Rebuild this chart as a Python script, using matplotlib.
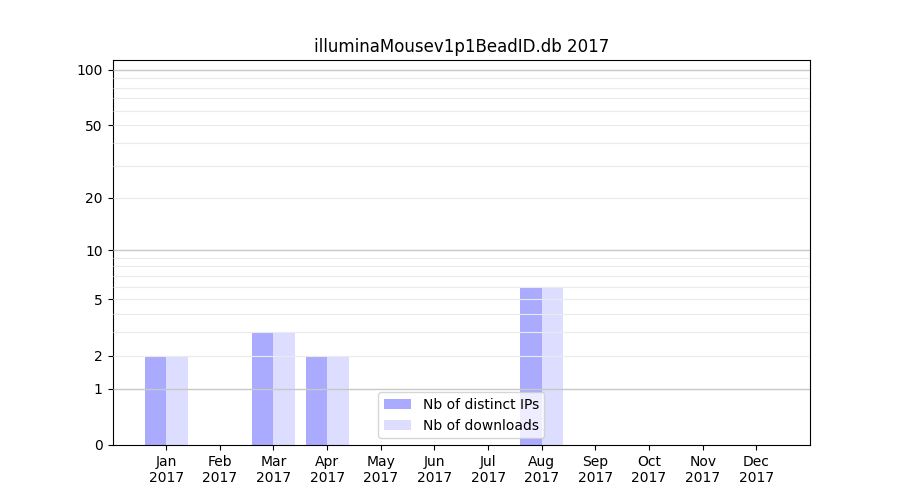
import numpy as np
import matplotlib
matplotlib.use('Agg')
import matplotlib.pyplot as plt
from matplotlib.ticker import NullLocator, FixedLocator

# Daten
months = ['Jan', 'Feb', 'Mar', 'Apr', 'May', 'Jun', 'Jul', 'Aug', 'Sep', 'Oct', 'Nov', 'Dec']
year = '2017'
distinct_ips = [2, 0, 3, 2, 0, 0, 0, 6, 0, 0, 0, 0]
downloads = [2, 0, 3, 2, 0, 0, 0, 6, 0, 0, 0, 0]
ytick_vals = [0, 1, 2, 5, 10, 20, 50, 100]
minor_grid = [2, 3, 4, 5, 6, 7, 8, 9, 20, 30, 40, 50, 60, 70, 80, 90]
major_grid = [1, 10, 100]

x = np.arange(len(months))
width = 0.4

fig, ax = plt.subplots(figsize=(9, 5), dpi=100)
fig.subplots_adjust(left=0.125, right=0.9, top=0.88, bottom=0.11)

# log(1+x) Skala
ax.set_yscale('function', functions=(lambda v: np.log10(1 + np.clip(v, 0, None)),
                                      lambda v: 10 ** v - 1))

# Gitter
ax.hlines(minor_grid, -1, 12, color='#ebebeb', linewidth=0.8, zorder=3)
ax.hlines(major_grid, -1, 12, color='#c8c8c8', linewidth=1.0, zorder=3)

ax.bar(x - width / 2, distinct_ips, width, color='#aaaaff', label='Nb of distinct IPs', zorder=2)
ax.bar(x + width / 2, downloads, width, color='#ddddff', label='Nb of downloads', zorder=2)

ax.set_xlim(-1, 12)
ax.set_ylim(0, 113)
ax.yaxis.set_major_locator(FixedLocator(ytick_vals))
ax.yaxis.set_minor_locator(NullLocator())
ax.set_yticklabels([str(v) for v in ytick_vals])
ax.set_xticks(x)
ax.set_xticklabels([m + '\n' + year for m in months])
ax.set_title('illuminaMousev1p1BeadID.db 2017')
ax.legend(loc='lower center')

plt.savefig('out.png', dpi=100)
